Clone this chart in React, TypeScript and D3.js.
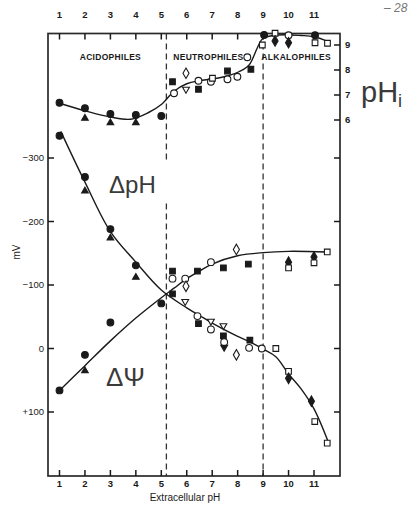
import React from "react";
import * as d3 from "d3";

type Pt = [number, number];

// x axis (extracellular pH)
const xTickValues = [1, 2, 3, 4, 5, 6, 7, 8, 9, 10, 11];
const dividers = [5.2, 9];
const zones = [
  { name: "ACIDOPHILES", at: 3.0 },
  { name: "NEUTROPHILES", at: 6.85 },
  { name: "ALKALOPHILES", at: 10.3 },
];

// left axis (mV) and right axis (pHi)
const mvTicks = [-300, -200, -100, 0, 100];
const mvTickLabels = ["\u2212300", "\u2212200", "\u2212100", "0", "+100"];
const phiTicks = [6, 7, 8, 9];

// internal pH (pHi) — upper panel
const phiCurve: Pt[] = [
  [1, 6.67], [2, 6.37], [3, 6.12], [3.8, 6.03], [4.5, 6.3], [5, 6.62],
  [5.5, 7.15], [6, 7.45], [6.5, 7.57], [7, 7.64], [7.6, 7.76], [8.05, 7.93],
  [8.45, 8.2], [8.78, 8.9], [9, 9.27], [9.6, 9.4], [10.5, 9.38], [11, 9.33], [11.6, 9.12],
];
const phiCircleFilled: Pt[] = [[1, 6.69], [2, 6.47], [3, 6.24], [4, 6.2], [5, 6.16], [9.04, 9.4], [11.04, 9.39]];
const phiTriangleFilled: Pt[] = [[2, 6.07], [3, 5.89], [4, 5.89]];
const phiSquareFilled: Pt[] = [[5.44, 7.53], [6.46, 7.23], [7.6, 7.96], [8.52, 8.03]];
const phiCircleOpen: Pt[] = [[5.5, 7.07], [6.46, 7.57], [6.95, 7.53], [7.6, 7.63], [7.99, 7.73], [8.38, 8.51], [10, 9.39]];
const phiDiamondOpen: Pt[] = [[5.97, 7.87]];
const phiTriDownOpen: Pt[] = [[5.97, 7.23]];
const phiSquareOpen: Pt[] = [[7.01, 7.67], [8.97, 9.0], [9.47, 9.47], [11.04, 9.09], [11.53, 9.07]];
const phiDiamondFilled: Pt[] = [[9.47, 9.16], [10, 9.09]];

// delta pH (mV)
const dphCurve: Pt[] = [
  [1.05, -342], [2, -262], [3, -184], [4, -136], [5, -92], [6, -64], [6.5, -52],
  [7, -40], [8, -19], [8.5, -10], [9, 1], [9.5, 13], [10, 40], [10.5, 64], [11, 95], [11.55, 146],
];
const dphCircleFilled: Pt[] = [[1, -335], [2, -270], [3, -188], [4, -131]];
const dphTriangleFilled: Pt[] = [[2, -248], [3, -174], [4, -112]];
const dphSquareFilled: Pt[] = [[5.44, -86], [6.46, -39], [7.44, -20], [8.48, -13]];
const dphCircleOpen: Pt[] = [[6.42, -51], [6.95, -30], [7.47, -10], [8.45, -1], [8.95, 0]];
const dphTriDownOpen: Pt[] = [[5.94, -74], [6.95, -43], [7.44, -36]];
const dphTriDownFilled: Pt[] = [[7.47, -2]];
const dphDiamondOpen: Pt[] = [[7.95, 10]];
const dphSquareOpen: Pt[] = [[9.5, 0], [10, 36], [11.03, 115], [11.52, 149]];
const dphDiamondFilled: Pt[] = [[10, 47], [10.9, 83]];

// delta psi (mV)
const dpsiCurve: Pt[] = [
  [1, 66], [2, 27], [3, -12], [4, -48], [5, -80], [5.5, -95], [6, -110], [6.5, -122],
  [7, -133], [8, -146], [9, -151], [10, -153], [11.5, -152],
];
const dpsiCircleFilled: Pt[] = [[1, 66], [2, 10], [3, -41], [5, -71]];
const dpsiTriangleFilled: Pt[] = [[2, 35]];
const dpsiSquareFilled: Pt[] = [[5.44, -122], [6.42, -122], [7.44, -127], [8.42, -133]];
const dpsiCircleOpen: Pt[] = [[5.44, -110], [5.94, -110], [6.95, -136]];
const dpsiDiamondOpen: Pt[] = [[5.97, -98], [7.95, -156]];
const dpsiDiamondFilled: Pt[] = [[10, -136], [11, -144]];
const dpsiSquareOpen: Pt[] = [[10, -127], [11, -135], [11.52, -152]];

const W = 418;
const H = 506;
const frame = { left: 48, right: 340, top: 33.5, bottom: 476 };
const font = "'Liberation Sans', Arial, Helvetica, sans-serif";
const ink = "#1a1a1a";

const x = d3.scaleLinear().domain([1, 11]).range([59.5, 314]);
const yMv = d3.scaleLinear().domain([-300, 100]).range([158, 412]);
const yPhi = d3.scaleLinear().domain([6, 9]).range([120, 45]);

type Shape = "circle" | "triangle" | "tridown" | "square" | "diamond";

const symbolFor: Record<Shape, { type: d3.SymbolType; size: number; rot: number }> = {
  circle: { type: d3.symbolCircle, size: 36, rot: 0 },
  triangle: { type: d3.symbolTriangle, size: 19, rot: 0 },
  tridown: { type: d3.symbolTriangle, size: 20, rot: 180 },
  square: { type: d3.symbolSquare, size: 32, rot: 0 },
  diamond: { type: d3.symbolDiamond, size: 32, rot: 0 },
};

function Markers({ data, y, shape, filled }: { data: Pt[]; y: (v: number) => number; shape: Shape; filled: boolean }) {
  const s = symbolFor[shape];
  const d = d3.symbol().type(s.type).size(s.size)() || "";
  return (
    <g>
      {data.map((p, i) => (
        <path
          key={i}
          d={d}
          transform={`translate(${x(p[0])},${y(p[1])}) rotate(${s.rot})`}
          fill={filled ? ink : "#fff"}
          stroke={ink}
          strokeWidth={1.1}
        />
      ))}
    </g>
  );
}

function Curve({ data, y }: { data: Pt[]; y: (v: number) => number }) {
  const line = d3
    .line<Pt>()
    .x((d) => x(d[0]))
    .y((d) => y(d[1]))
    .curve(d3.curveCatmullRom.alpha(0.5));
  return <path d={line(data) || ""} fill="none" stroke={ink} strokeWidth={1.4} />;
}

export default function App() {
  const mv = (v: number) => yMv(v);
  const ph = (v: number) => yPhi(v);

  return (
    <svg
      width={W}
      height={H}
      style={{ position: "absolute", left: 0, top: 0, background: "#fff" }}
      fontFamily={font}
    >
      <rect width={W} height={H} fill="#fff" />

      {/* dashed dividers */}
      {dividers.map((d) => (
        <line key={d} x1={x(d)} x2={x(d)} y1={frame.top} y2={frame.bottom} stroke="#333" strokeWidth={1.3} strokeDasharray="6,4" />
      ))}

      {/* frame */}
      <rect
        x={frame.left}
        y={frame.top}
        width={frame.right - frame.left}
        height={frame.bottom - frame.top}
        fill="none"
        stroke="#2a2a2a"
        strokeWidth={1.7}
      />

      {/* top and bottom ticks */}
      {xTickValues.map((t) => (
        <g key={t} fontSize={9.5} fontWeight={600} fill={ink} textAnchor="middle">
          <line x1={x(t)} x2={x(t)} y1={frame.top} y2={frame.top + 6} stroke={ink} strokeWidth={1.5} />
          <line x1={x(t)} x2={x(t)} y1={frame.bottom} y2={frame.bottom - 6} stroke={ink} strokeWidth={1.5} />
          <text x={x(t)} y={17.5}>{t}</text>
          <text x={x(t)} y={487}>{t}</text>
        </g>
      ))}

      {/* left mV axis */}
      {mvTicks.map((t, i) => (
        <g key={t} fontSize={9.5} fill={ink}>
          <line x1={frame.left} x2={frame.left + 6} y1={yMv(t)} y2={yMv(t)} stroke={ink} strokeWidth={1.5} />
          <line x1={frame.right} x2={frame.right - 6} y1={yMv(t)} y2={yMv(t)} stroke={ink} strokeWidth={1.5} />
          <text x={frame.left - 4} y={yMv(t)} dy="0.35em" textAnchor="end">{mvTickLabels[i]}</text>
        </g>
      ))}

      {/* right pHi axis */}
      {phiTicks.map((t) => (
        <g key={t} fontSize={9.5} fontWeight={600} fill={ink}>
          <line x1={frame.right} x2={frame.right - 6} y1={yPhi(t)} y2={yPhi(t)} stroke={ink} strokeWidth={1.5} />
          <text x={frame.right + 5} y={yPhi(t)} dy="0.35em">{t}</text>
        </g>
      ))}

      {/* zone names */}
      {zones.map((z) => (
        <text key={z.name} x={x(z.at)} y={60} fontSize={8.5} fontWeight={600} letterSpacing={0.3} textAnchor="middle" fill={ink}>
          {z.name}
        </text>
      ))}

      {/* curves */}
      <Curve data={phiCurve} y={ph} />
      <Curve data={dphCurve} y={mv} />
      <Curve data={dpsiCurve} y={mv} />

      {/* pHi markers */}
      <Markers data={phiCircleFilled} y={ph} shape="circle" filled />
      <Markers data={phiTriangleFilled} y={ph} shape="triangle" filled />
      <Markers data={phiSquareFilled} y={ph} shape="square" filled />
      <Markers data={phiCircleOpen} y={ph} shape="circle" filled={false} />
      <Markers data={phiDiamondOpen} y={ph} shape="diamond" filled={false} />
      <Markers data={phiTriDownOpen} y={ph} shape="tridown" filled={false} />
      <Markers data={phiSquareOpen} y={ph} shape="square" filled={false} />
      <Markers data={phiDiamondFilled} y={ph} shape="diamond" filled />

      {/* delta pH markers */}
      <Markers data={dphCircleFilled} y={mv} shape="circle" filled />
      <Markers data={dphTriangleFilled} y={mv} shape="triangle" filled />
      <Markers data={dphSquareFilled} y={mv} shape="square" filled />
      <Markers data={dphCircleOpen} y={mv} shape="circle" filled={false} />
      <Markers data={dphTriDownOpen} y={mv} shape="tridown" filled={false} />
      <Markers data={dphTriDownFilled} y={mv} shape="tridown" filled />
      <Markers data={dphDiamondOpen} y={mv} shape="diamond" filled={false} />
      <Markers data={dphSquareOpen} y={mv} shape="square" filled={false} />
      <Markers data={dphDiamondFilled} y={mv} shape="diamond" filled />

      {/* delta psi markers */}
      <Markers data={dpsiCircleFilled} y={mv} shape="circle" filled />
      <Markers data={dpsiTriangleFilled} y={mv} shape="triangle" filled />
      <Markers data={dpsiSquareFilled} y={mv} shape="square" filled />
      <Markers data={dpsiCircleOpen} y={mv} shape="circle" filled={false} />
      <Markers data={dpsiDiamondOpen} y={mv} shape="diamond" filled={false} />
      <Markers data={dpsiDiamondFilled} y={mv} shape="diamond" filled />
      <Markers data={dpsiSquareOpen} y={mv} shape="square" filled={false} />

      {/* axis titles */}
      <text x={185} y={501} fontSize={10} textAnchor="middle" fill={ink}>Extracellular pH</text>
      <text transform="translate(20,252) rotate(-90)" fontSize={10} textAnchor="middle" fill={ink}>mV</text>

      {/* big series labels */}
      <rect x={353} y={68} width={57} height={43} fill="#fff" />
      <text x={361} y={102} fontSize={29} fill="#3a3a3a">
        pH<tspan fontSize={18} dy={5}>i</tspan>
      </text>
      <rect x={100} y={163} width={70} height={40} fill="#fff" />
      <text x={109} y={193} fontSize={24} fill="#3a3a3a">ΔpH</text>
      <rect x={97} y={355} width={60} height={40} fill="#fff" />
      <text x={106} y={386} fontSize={26} fill="#3a3a3a">ΔΨ</text>

      {/* handwritten page note */}
      <text x={384} y={12} fontSize={12} fontStyle="italic" fill="#777">– 28</text>
    </svg>
  );
}
